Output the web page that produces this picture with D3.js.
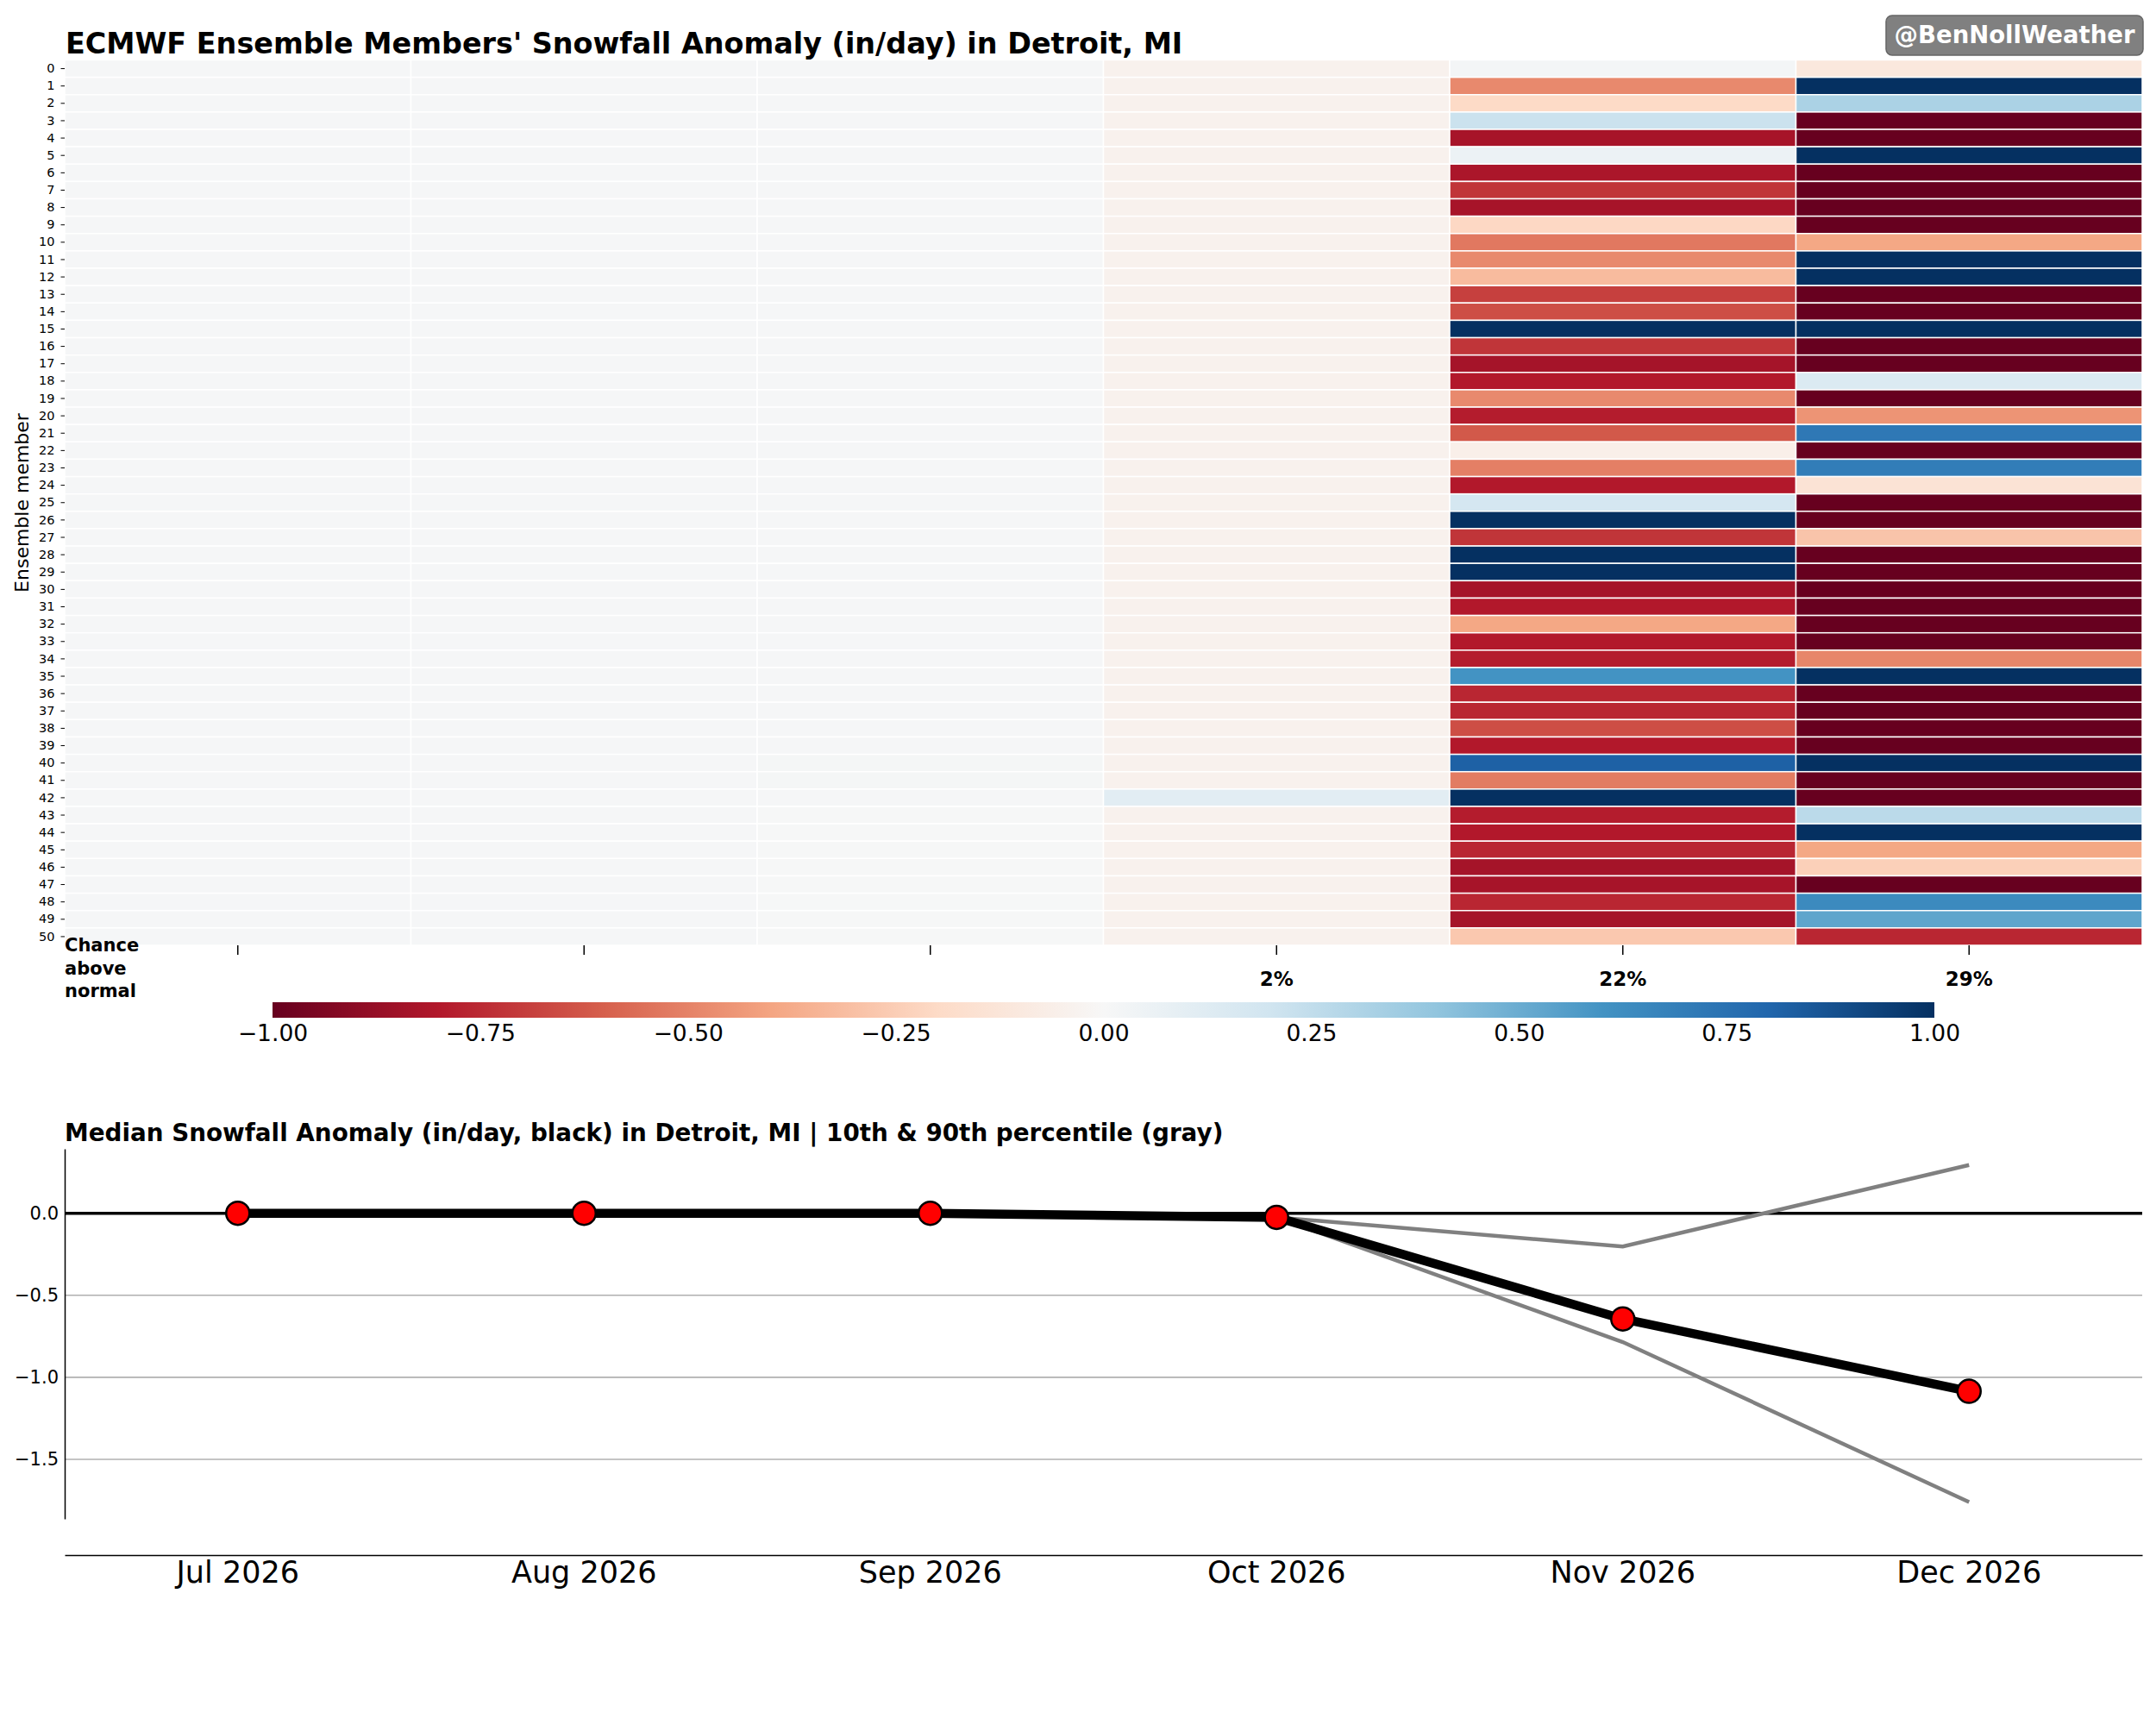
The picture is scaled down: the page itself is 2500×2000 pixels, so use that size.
<!DOCTYPE html>
<html>
<head>
<meta charset="utf-8">
<script src="https://cdn.jsdelivr.net/npm/d3@7"></script>
<style>
  body { margin: 0; background: #fff; }
  text { font-family: "DejaVu Sans", sans-serif; }
</style>
</head>
<body>
<div class="canvas"></div>
<script>
// months (heatmap columns / line chart x)
const months = ['Jul 2026', 'Aug 2026', 'Sep 2026', 'Oct 2026', 'Nov 2026', 'Dec 2026'];
const chanceLabels = ['', '', '', '2%', '22%', '29%'];

// snowfall anomaly (in/day) for members 0..50, one array per month
const julAnom = [0.01,0.01,0.01,0.01,0.01,0.01,0.01,0.01,0.01,0.01,0.01,0.01,0.01,0.01,0.01,0.01,0.01,0.01,0.01,0.01,0.01,0.01,0.01,0.01,0.01,0.01,0.01,0.01,0.01,0.01,0.01,0.01,0.01,0.01,0.01,0.01,0.01,0.01,0.01,0.01,0.01,0.01,0.01,0.01,0.01,0.01,0.01,0.01,0.01,0.01,0.01];
const augAnom = [0.01,0.01,0.01,0.01,0.01,0.01,0.01,0.01,0.01,0.01,0.01,0.01,0.01,0.01,0.01,0.01,0.01,0.01,0.01,0.01,0.01,0.01,0.01,0.01,0.01,0.01,0.01,0.01,0.01,0.01,0.01,0.01,0.01,0.01,0.01,0.01,0.01,0.01,0.01,0.01,0.01,0.01,0.01,0.01,0.01,0.01,0.01,0.01,0.01,0.01,0.01];
const sepAnom = [0.01,0.01,0.01,0.01,0.01,0.01,0.01,0.01,0.01,0.01,0.01,0.01,0.01,0.01,0.01,0.01,0.01,0.01,0.01,0.01,0.01,0.01,0.01,0.01,0.01,0.01,0.01,0.01,0.01,0.01,0.01,0.01,0.01,0.01,0.01,0.01,0.01,0.01,0.01,0.01,0.015,0.015,0.01,0.005,0.005,0.005,0.005,0.005,0.005,0.005,0.005];
const octAnom = [-0.04,-0.04,-0.04,-0.04,-0.04,-0.04,-0.04,-0.04,-0.04,-0.04,-0.04,-0.04,-0.04,-0.04,-0.04,-0.04,-0.04,-0.04,-0.04,-0.04,-0.04,-0.04,-0.04,-0.04,-0.04,-0.04,-0.04,-0.04,-0.04,-0.04,-0.04,-0.04,-0.04,-0.04,-0.04,-0.04,-0.04,-0.04,-0.04,-0.04,-0.04,-0.04,0.11,-0.04,-0.04,-0.04,-0.04,-0.04,-0.04,-0.04,-0.04];
const novAnom = [0.02,-0.48,-0.2,0.22,-0.83,0.06,-0.82,-0.72,-0.83,-0.21,
  -0.53,-0.48,-0.32,-0.69,-0.65,1.0,-0.72,-0.835,-0.8,-0.48,
  -0.79,-0.62,-0.06,-0.51,-0.8,0.18,1.0,-0.72,1.0,1.0,
  -0.835,-0.8,-0.39,-0.8,-0.79,0.6,-0.76,-0.76,-0.65,-0.8,
  0.82,-0.52,1.0,-0.79,-0.8,-0.76,-0.835,-0.83,-0.76,-0.835,-0.27];
const decAnom = [-0.11,1.0,0.32,-1.0,-1.0,1.0,-1.0,-1.0,-1.0,-1.0,
  -0.39,1.0,1.0,-1.0,-1.0,1.0,-1.0,-1.0,0.15,-1.0,
  -0.45,0.72,-1.0,0.7,-0.14,-1.0,-1.0,-0.285,-1.0,-1.0,
  -1.0,-1.0,-1.0,-1.0,-0.49,1.0,-1.0,-1.0,-1.0,-1.0,
  1.0,-1.0,-1.0,0.27,1.0,-0.39,-0.24,-1.0,0.64,0.53,-0.76];

// line chart series
const medianAnom = [0, 0, 0, -0.025, -0.644, -1.085];
const p10Anom = [0, 0, 0, -0.025, -0.785, -1.76];
const p90Anom = [0, 0, 0, -0.025, -0.203, 0.294];

// RdBu colormap and tick values
const rdbuDomain = [-1, -0.8, -0.6, -0.4, -0.2, 0, 0.2, 0.4, 0.6, 0.8, 1];
const rdbuColors = ['#67001f','#b2182b','#d6604d','#f4a582','#fddbc7','#f7f7f7','#d1e5f0','#92c5de','#4393c3','#2166ac','#053061'];
const cbarTicks = [-1, -0.75, -0.5, -0.25, 0, 0.25, 0.5, 0.75, 1];
const lineTicks = [0, -0.5, -1, -1.5];

const monthCols = [julAnom, augAnom, sepAnom, octAnom, novAnom, decAnom];
const members = d3.range(julAnom.length);

const svg = d3.select('.canvas')
    .append('svg')
    .attr('width', 2500)
    .attr('height', 2000);

const color = d3.scaleLinear().domain(rdbuDomain).range(rdbuColors).clamp(true);

// ---------- heatmap ----------
const x = d3.scaleBand().domain(months).range([75, 2484]);
const y = d3.scaleBand().domain(members).range([69.5, 1096]);

const cells = months.flatMap((m, j) => monthCols[j].map((v, i) => ({ m, i, v })));

svg.append('g').selectAll('rect').data(cells)
  .enter().append('rect')
    .attr('x', d => x(d.m))
    .attr('y', d => y(d.i))
    .attr('width', x.bandwidth())
    .attr('height', y.bandwidth())
    .attr('fill', d => color(d.v))
    .attr('stroke', '#fff')
    .attr('stroke-width', 1.5);

// member labels
const yAxis = svg.append('g')
    .attr('transform', 'translate(75,0)')
    .call(d3.axisLeft(y).tickSize(4.5).tickPadding(7));
yAxis.select('.domain').remove();
yAxis.selectAll('text').style('font-size', '14.5px').attr('fill', '#000');

svg.append('text')
    .attr('transform', 'translate(33,583) rotate(-90)')
    .attr('text-anchor', 'middle')
    .style('font-size', '22px')
    .text('Ensemble member');

// chance above normal labels
const xAxis = svg.append('g')
    .attr('transform', 'translate(0,1096)')
    .call(d3.axisBottom(x).tickSize(11).tickFormat((d, i) => chanceLabels[i]));
xAxis.select('.domain').remove();
xAxis.selectAll('line').attr('stroke-width', 1.5);
xAxis.selectAll('text')
    .attr('y', 47).attr('dy', 0)
    .style('font-size', '23px').style('font-weight', 'bold').attr('fill', '#000');

const chance = svg.append('text')
    .attr('x', 75)
    .style('font-size', '21px')
    .style('font-weight', 'bold');
['Chance', 'above', 'normal'].forEach((t, k) => {
  chance.append('tspan').attr('x', 75).attr('y', 1103 + k * 26.7).text(t);
});

svg.append('text')
    .attr('x', 76).attr('y', 62)
    .style('font-size', '33.4px').style('font-weight', 'bold')
    .text("ECMWF Ensemble Members' Snowfall Anomaly (in/day) in Detroit, MI");

// watermark
svg.append('rect')
    .attr('x', 2187).attr('y', 18).attr('width', 298).attr('height', 46).attr('rx', 7)
    .attr('fill', '#808080').attr('stroke', '#666').attr('stroke-width', 1.5);
svg.append('text')
    .attr('x', 2336).attr('y', 50)
    .attr('text-anchor', 'middle')
    .attr('fill', '#fff')
    .style('font-size', '27.5px').style('font-weight', 'bold')
    .text('@BenNollWeather');

// ---------- colorbar ----------
const grad = svg.append('defs').append('linearGradient').attr('id', 'rdbu');
rdbuDomain.forEach((d, k) => {
  grad.append('stop').attr('offset', (d + 1) / 2).attr('stop-color', rdbuColors[k]);
});
const cbX = d3.scaleLinear().domain([-1, 1]).range([316, 2243]);
svg.append('rect')
    .attr('x', cbX(-1)).attr('y', 1162)
    .attr('width', cbX(1) - cbX(-1)).attr('height', 18)
    .attr('fill', 'url(#rdbu)');
const cbAxis = svg.append('g')
    .attr('transform', 'translate(0,1180)')
    .call(d3.axisBottom(cbX).tickValues(cbarTicks).tickSize(0).tickFormat(d3.format('.2f')));
cbAxis.select('.domain').remove();
cbAxis.selectAll('text').attr('y', 27).attr('dy', 0)
    .style('font-size', '26.5px').attr('fill', '#000');

// ---------- line chart ----------
svg.append('text')
    .attr('x', 75).attr('y', 1323)
    .style('font-size', '27.8px').style('font-weight', 'bold')
    .text('Median Snowfall Anomaly (in/day, black) in Detroit, MI | 10th & 90th percentile (gray)');

const ly = d3.scaleLinear().domain([-1.8625, 0.3925]).range([1761, 1332]);
const cx = m => x(m) + x.bandwidth() / 2;

svg.append('g').selectAll('line').data(lineTicks.filter(t => t !== 0))
  .enter().append('line')
    .attr('x1', 75).attr('x2', 2484)
    .attr('y1', d => ly(d)).attr('y2', d => ly(d))
    .attr('stroke', '#b0b0b0').attr('stroke-width', 1.6);

svg.append('line')
    .attr('x1', 75).attr('x2', 2484)
    .attr('y1', ly(0)).attr('y2', ly(0))
    .attr('stroke', '#000').attr('stroke-width', 3.5);

const lyAxis = svg.append('g')
    .attr('transform', 'translate(75,0)')
    .call(d3.axisLeft(ly).tickValues(lineTicks).tickSize(0).tickPadding(7).tickFormat(d3.format('.1f')));
lyAxis.select('.domain').attr('stroke-width', 1.5);
lyAxis.selectAll('text').style('font-size', '21px').attr('fill', '#000');

const lxAxis = svg.append('g')
    .attr('transform', 'translate(0,1803)')
    .call(d3.axisBottom(x).tickSize(0).tickSizeOuter(0));
lxAxis.select('.domain').attr('stroke-width', 1.5);
lxAxis.selectAll('text').attr('y', 32).attr('dy', 0)
    .style('font-size', '35px').attr('fill', '#000');

const line = d3.line().x((d, i) => cx(months[i])).y(d => ly(d));

[p10Anom, p90Anom].forEach(s => {
  svg.append('path').datum(s)
      .attr('d', line)
      .attr('fill', 'none')
      .attr('stroke', 'gray')
      .attr('stroke-width', 4.5);
});

svg.append('path').datum(medianAnom)
    .attr('d', line)
    .attr('fill', 'none')
    .attr('stroke', '#000')
    .attr('stroke-width', 10.5)
    .attr('stroke-linejoin', 'round');

svg.append('g').selectAll('circle').data(medianAnom)
  .enter().append('circle')
    .attr('cx', (d, i) => cx(months[i]))
    .attr('cy', d => ly(d))
    .attr('r', 13.5)
    .attr('fill', 'red')
    .attr('stroke', '#000')
    .attr('stroke-width', 2.5);
</script>
</body>
</html>
